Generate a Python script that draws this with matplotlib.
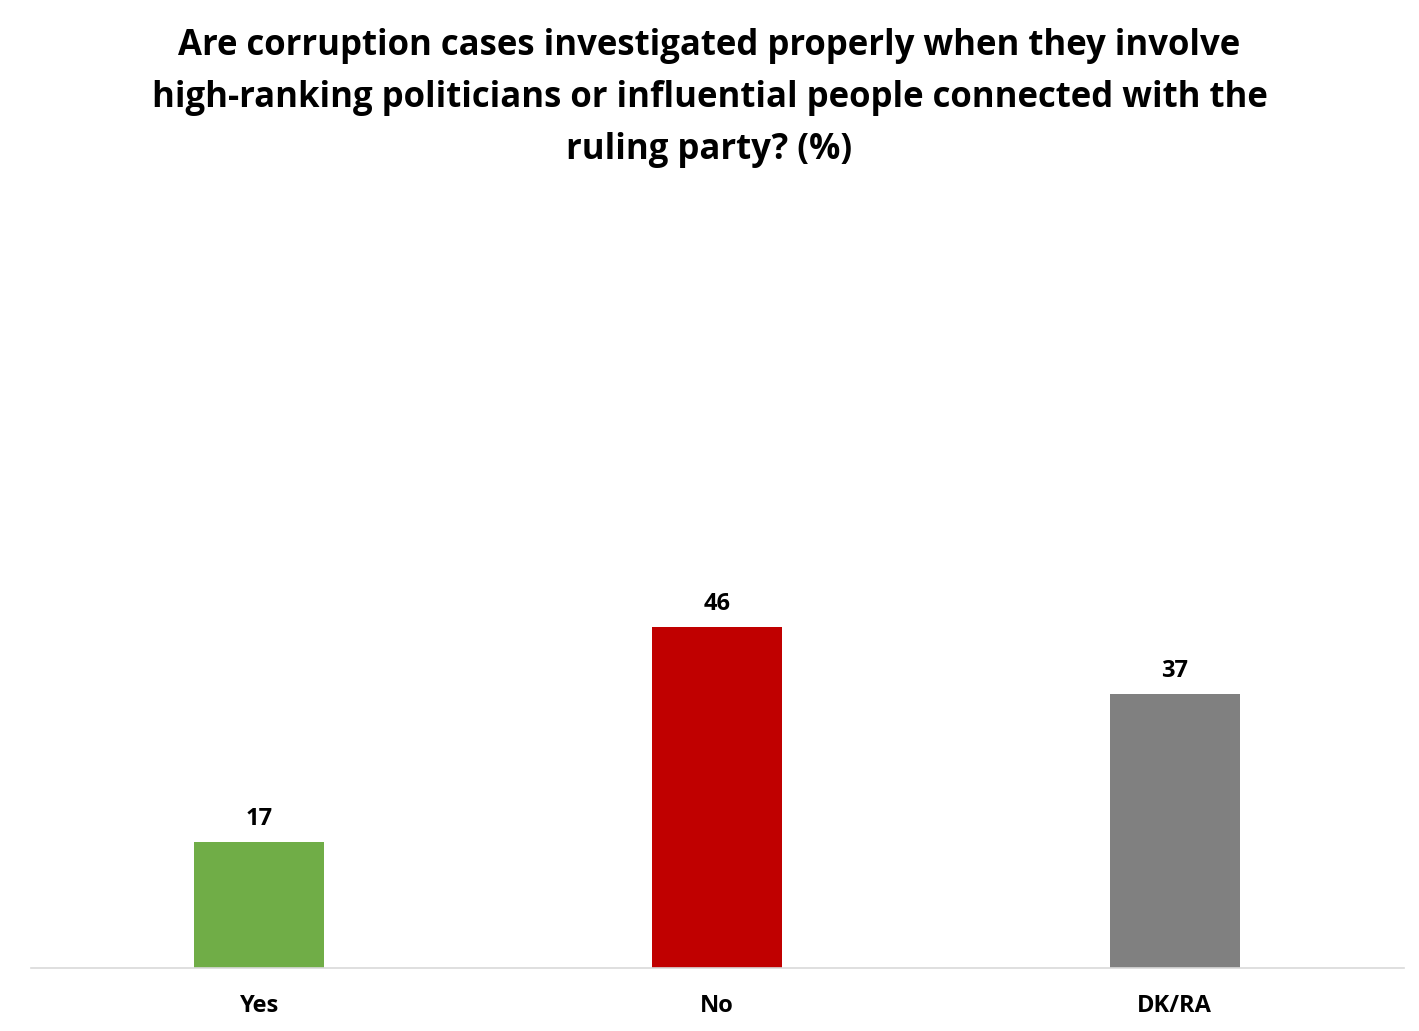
import matplotlib
matplotlib.use("Agg")
import matplotlib.pyplot as plt

categories = ["Yes", "No", "DK/RA"]
values = [17, 46, 37]
colors = ["#70AD47", "#C00000", "#808080"]
title = ("Are corruption cases investigated properly when they involve\n"
         "high-ranking politicians or influential people connected with the\n"
         "ruling party? (%)")

plt.rcParams['font.family'] = ['Open Sans', 'DejaVu Sans']

fig = plt.figure(figsize=(14.19, 10.31), dpi=100)
ax = fig.add_axes([0.0215, 0.0611, 0.9676, 0.718])
x = range(len(categories))
bars = ax.bar(x, values, width=0.284, color=colors)
ax.set_xlim(-0.5, len(categories) - 0.5)
ax.set_ylim(0, 100)
for xi, v in zip(x, values):
    ax.text(xi, v + 1.5, f"{v}", ha="center", va="bottom", fontsize=17, fontweight="bold")
ax.set_xticks(list(x))
ax.set_xticklabels(categories, fontsize=17, fontweight="bold")
ax.tick_params(axis="x", length=0, pad=19)
ax.set_yticks([])
for s in ["top", "right", "left"]:
    ax.spines[s].set_visible(False)
ax.spines["bottom"].set_color("#d9d9d9")
ax.spines["bottom"].set_linewidth(1.2)
fig.text(0.5, 0.973, title, ha="center", va="top", fontsize=25, fontweight="bold",
         linespacing=1.6)
fig.savefig("out.png", dpi=100)
